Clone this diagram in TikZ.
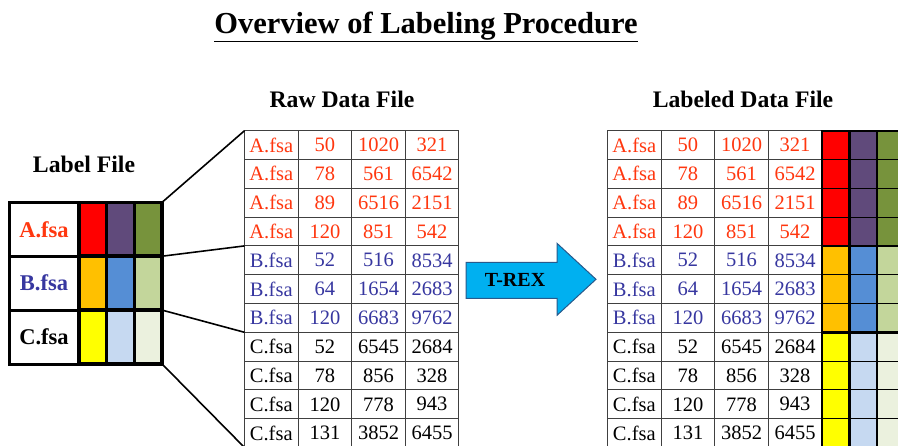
\documentclass[tikz,border=0pt]{standalone}
\usepackage{fontspec}
\setmainfont{Liberation Serif}
\definecolor{aorange}{RGB}{255,55,15}
\definecolor{bblue}{RGB}{55,55,160}
\definecolor{cred}{RGB}{255,0,0}
\definecolor{cpurple}{RGB}{96,74,123}
\definecolor{cgreen}{RGB}{119,147,60}
\definecolor{corange}{RGB}{255,192,0}
\definecolor{cblue}{RGB}{85,142,213}
\definecolor{clgreen}{RGB}{195,214,155}
\definecolor{cyellow}{RGB}{255,255,0}
\definecolor{clblue}{RGB}{198,217,241}
\definecolor{cvlgreen}{RGB}{235,241,222}
\definecolor{arrowfill}{RGB}{0,176,240}
\definecolor{arrowline}{RGB}{40,90,140}
\begin{document}
\begin{tikzpicture}[x=1pt,y=-1pt,
  tcell/.style={draw=black!75, line width=0.9pt, minimum width=53.6pt, minimum height=28.8pt,
    inner sep=0pt, outer sep=0pt, anchor=north west, font=\fontsize{20.5}{22}\selectfont},
  ccell/.style={draw=black, line width=1pt, minimum width=27.5pt, minimum height=28.8pt,
    inner sep=0pt, outer sep=0pt, anchor=north west},
  lfname/.style={draw=black, line width=3pt, minimum width=70pt, minimum height=53.9pt,
    inner sep=0pt, outer sep=0pt, anchor=north west, font=\fontsize{22.5}{24}\bfseries},
  lfcol/.style={draw=black, line width=3.5pt, minimum width=27.7pt, minimum height=53.9pt,
    inner sep=0pt, outer sep=0pt, anchor=north west},
  header/.style={font=\fontsize{23.7}{26}\bfseries, anchor=base, inner sep=0pt},
  conn/.style={line width=1.6pt, black}
]
\useasboundingbox (0,0) rectangle (898,445);
\clip (0,0) rectangle (898,445);
\fill[white] (0,0) rectangle (898,445);

% title and headers
\node[font=\fontsize{30.5}{34}\bfseries, anchor=base, inner sep=0pt] (title) at (426,33) {\underline{Overview of Labeling Procedure}};
\node[header] (rawhead) at (342,107) {Raw Data File};
\node[header] (labhead) at (743,107) {Labeled Data File};
\node[header] (lfhead) at (84,172) {Label File};

% data tables
\foreach \n/\a/\b/\c/\col [count=\i] in {
  A.fsa/50/1020/321/aorange, A.fsa/78/561/6542/aorange, A.fsa/89/6516/2151/aorange,
  A.fsa/120/851/542/aorange, B.fsa/52/516/8534/bblue, B.fsa/64/1654/2683/bblue,
  B.fsa/120/6683/9762/bblue, C.fsa/52/6545/2684/black, C.fsa/78/856/328/black,
  C.fsa/120/778/943/black, C.fsa/131/3852/6455/black}{
  \pgfmathsetmacro{\yy}{130.7+28.8*(\i-1)}
  \node[tcell, text=\col] (raw-\i-1) at (244.5,\yy) {\n};
  \node[tcell, text=\col] (raw-\i-2) at (298.1,\yy) {\a};
  \node[tcell, text=\col] (raw-\i-3) at (351.7,\yy) {\b};
  \node[tcell, text=\col] (raw-\i-4) at (405.3,\yy) {\c};
  \node[tcell, text=\col] (lab-\i-1) at (607.5,\yy) {\n};
  \node[tcell, text=\col] (lab-\i-2) at (661.1,\yy) {\a};
  \node[tcell, text=\col] (lab-\i-3) at (714.7,\yy) {\b};
  \node[tcell, text=\col] (lab-\i-4) at (768.3,\yy) {\c};
}

% colour label columns in labeled data
\foreach \i/\ca/\cb/\cc in {1/cred/cpurple/cgreen, 2/cred/cpurple/cgreen, 3/cred/cpurple/cgreen,
  4/cred/cpurple/cgreen, 5/corange/cblue/clgreen, 6/corange/cblue/clgreen, 7/corange/cblue/clgreen,
  8/cyellow/clblue/cvlgreen, 9/cyellow/clblue/cvlgreen, 10/cyellow/clblue/cvlgreen, 11/cyellow/clblue/cvlgreen}{
  \pgfmathsetmacro{\yy}{130.7+28.8*(\i-1)}
  \node[ccell, fill=\ca] (col-\i-1) at (822,\yy) {};
  \node[ccell, fill=\cb] (col-\i-2) at (849.5,\yy) {};
  \node[ccell, fill=\cc] (col-\i-3) at (877,\yy) {};
}
\foreach \r/\s in {1/4, 5/7, 8/11}{
  \foreach \k in {1,2,3}{
    \draw[line width=2.4pt] (col-\r-\k.north west) rectangle (col-\s-\k.south east);
  }
}
\draw[line width=2.4pt] (col-1-1.north west) -- (col-1-3.north east);

% label file
\node[lfname, text=aorange] (lf-1) at (9,202.3) {A.fsa};
\node[lfname, text=bblue] (lf-2) at (9,256.2) {B.fsa};
\node[lfname, text=black] (lf-3) at (9,310.1) {C.fsa};
\foreach \i/\ca/\cb/\cc in {1/cred/cpurple/cgreen, 2/corange/cblue/clgreen, 3/cyellow/clblue/cvlgreen}{
  \pgfmathsetmacro{\yy}{202.3+53.9*(\i-1)}
  \node[lfcol, fill=\ca] (lf-\i-1) at (79,\yy) {};
  \node[lfcol, fill=\cb] (lf-\i-2) at (106.7,\yy) {};
  \node[lfcol, fill=\cc] (lf-\i-3) at (134.4,\yy) {};
}

% connectors from label file to raw data
\draw[conn] (lf-1-3.north east) -- (raw-1-1.north west);
\draw[conn] (lf-1-3.south east) -- (raw-4-1.south west);
\draw[conn] (lf-2-3.south east) -- (raw-7-1.south west);
\draw[conn] (lf-3-3.south east) -- (raw-11-1.south west);

% T-REX arrow
\draw[fill=arrowfill, draw=arrowline, line width=1pt, line join=miter]
  (466,262.3) -- (557,262.3) -- (557,243.3) -- (596,279.3) -- (557,315.3) -- (557,298.3) -- (466,298.3) -- cycle;
\node[font=\fontsize{20}{22}\bfseries, inner sep=0pt] (trex) at (515,280) {T-REX};
\end{tikzpicture}
\end{document}
